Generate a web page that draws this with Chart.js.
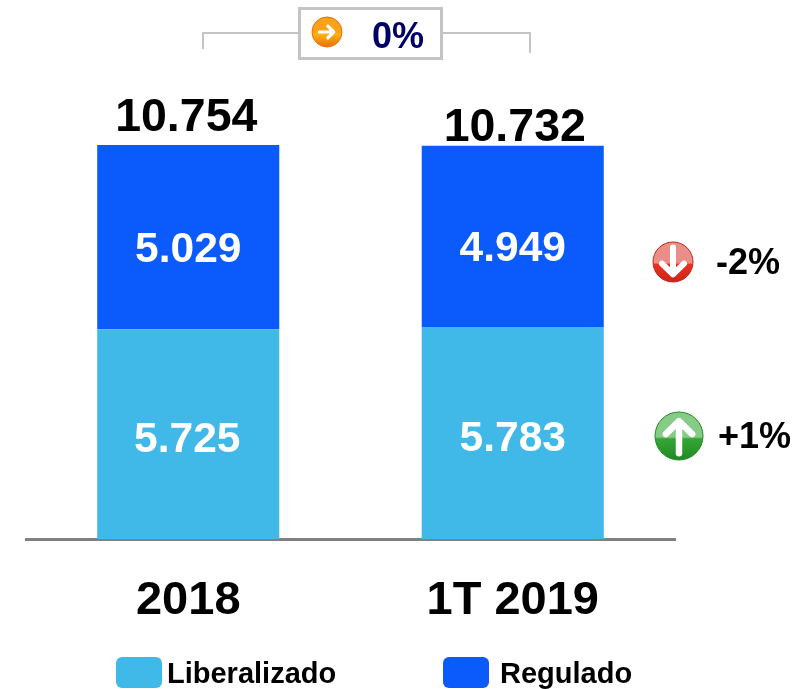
<!DOCTYPE html>
<html>
<head>
<meta charset="utf-8">
<style>
    html, body { margin: 0; padding: 0; background: #fff; }
    canvas { display: block; }
</style>
<script src="https://cdn.jsdelivr.net/npm/chart.js@4"></script>
</head>
<body>
<canvas id="myChart" width="809" height="689"></canvas>
<script>
const categories = ["2018", "1T 2019"];
const liberalizado = [5725, 5783];
const regulado = [5029, 4949];
const totals = [10754, 10732];
const totalChange = "0%";
const reguladoChange = "-2%";
const liberalizadoChange = "+1%";

const FONT = '"Liberation Sans", Arial, sans-serif';

// 5725 -> 5.725
function fmt(v) {
    return String(v).replace(/\B(?=(\d{3})+$)/g, ".");
}

// glossy round icon with a white arrow, dir is the rotation from "up"
function drawIcon(ctx, x, y, r, top, bottom, edge, dir, size, weight) {
    ctx.save();
    const g = ctx.createLinearGradient(0, y - r, 0, y + r);
    g.addColorStop(0, top);
    g.addColorStop(0.52, top);
    g.addColorStop(0.56, bottom);
    g.addColorStop(1, edge);
    ctx.fillStyle = g;
    ctx.beginPath();
    ctx.arc(x, y, r, 0, Math.PI * 2);
    ctx.fill();
    ctx.strokeStyle = edge;
    ctx.lineWidth = 1;
    ctx.stroke();
    ctx.strokeStyle = "#fff";
    ctx.lineWidth = r * weight;
    ctx.lineCap = "round";
    ctx.lineJoin = "round";
    ctx.translate(x, y);
    ctx.rotate(dir);
    ctx.scale(size, size);
    ctx.beginPath();
    ctx.moveTo(0, r * 0.72);
    ctx.lineTo(0, -r * 0.6);
    ctx.moveTo(-r * 0.55, -r * 0.08);
    ctx.lineTo(0, -r * 0.62);
    ctx.lineTo(r * 0.55, -r * 0.08);
    ctx.stroke();
    ctx.restore();
}

const annotations = {
    id: "annotations",
    afterDatasetsDraw(chart) {
        const ctx = chart.ctx;
        const low = chart.getDatasetMeta(0).data;
        const high = chart.getDatasetMeta(1).data;
        ctx.save();
        ctx.textAlign = "center";
        ctx.textBaseline = "middle";

        // values inside the bars
        ctx.fillStyle = "#fff";
        ctx.font = "bold 42.5px " + FONT;
        ctx.fillText(fmt(liberalizado[0]), low[0].x - 1, (low[0].y + low[0].base) / 2 + 6);
        ctx.fillText(fmt(liberalizado[1]), low[1].x, (low[1].y + low[1].base) / 2 + 6);
        high.forEach((bar, i) => {
            ctx.fillText(fmt(regulado[i]), bar.x, (bar.y + bar.base) / 2 + 13);
        });

        // totals on top, the two labels do not sit at the same height
        ctx.fillStyle = "#000";
        ctx.font = "bold 46.5px " + FONT;
        ctx.fillText(fmt(totals[0]), high[0].x - 2, high[0].y - 27);
        ctx.fillText(fmt(totals[1]), high[1].x + 2, high[1].y - 18);

        // bracket and box on top
        ctx.strokeStyle = "#c4c4c4";
        ctx.lineWidth = 2;
        ctx.beginPath();
        ctx.moveTo(203, 49);
        ctx.lineTo(203, 33);
        ctx.lineTo(299, 33);
        ctx.moveTo(443, 33);
        ctx.lineTo(530, 33);
        ctx.lineTo(530, 53);
        ctx.stroke();
        ctx.lineWidth = 3;
        ctx.strokeRect(299.5, 8.5, 142, 50);

        drawIcon(ctx, 327, 32, 15, "#f9a21a", "#fdb415", "#ea6f05", Math.PI / 2, 0.72, 0.3);
        ctx.fillStyle = "#000066";
        ctx.font = "bold 36px " + FONT;
        ctx.fillText(totalChange, 398, 38);

        // variation on the right
        drawIcon(ctx, 673, 262, 20, "#ea8f88", "#ee2f1e", "#c9261a", Math.PI, 1, 0.3);
        drawIcon(ctx, 679, 436, 24, "#86cc86", "#36a536", "#1f8a22", 0, 1, 0.27);
        ctx.fillStyle = "#000";
        ctx.textAlign = "left";
        ctx.fillText(reguladoChange, 716, 264);
        ctx.fillText(liberalizadoChange, 718, 438);

        // legend
        const items = [
            { x: 116, w: 46, tx: 167, text: chart.data.datasets[0].label, color: chart.data.datasets[0].backgroundColor },
            { x: 443, w: 46, tx: 500, text: chart.data.datasets[1].label, color: chart.data.datasets[1].backgroundColor }
        ];
        ctx.font = "bold 29px " + FONT;
        items.forEach(it => {
            ctx.fillStyle = it.color;
            ctx.beginPath();
            ctx.roundRect(it.x, 657, it.w, 31, 6);
            ctx.fill();
            ctx.fillStyle = "#000";
            ctx.fillText(it.text, it.tx, 675);
        });
        ctx.restore();
    }
};

new Chart(document.getElementById("myChart").getContext("2d"), {
    type: "bar",
    data: {
        labels: categories,
        datasets: [
            { label: "Liberalizado", data: liberalizado, backgroundColor: "#40B9E8" },
            { label: "Regulado", data: regulado, backgroundColor: "#0A5AFC" }
        ]
    },
    options: {
        responsive: false,
        animation: false,
        layout: { padding: { top: 26, left: 26, right: 134, bottom: 0 } },
        categoryPercentage: 1,
        barPercentage: 0.561,
        scales: {
            x: {
                stacked: true,
                afterFit(scale) { scale.height = 150; },
                grid: { display: false, drawTicks: false },
                border: { display: true, color: "#808080", width: 3 },
                ticks: {
                    color: "#000",
                    padding: 34,
                    maxRotation: 0,
                    font: { family: FONT, size: 47, weight: "bold" }
                }
            },
            y: {
                stacked: true,
                display: false,
                min: 0,
                max: 14000
            }
        },
        plugins: {
            legend: { display: false },
            tooltip: { enabled: false }
        }
    },
    plugins: [annotations]
});
</script>
</body>
</html>
